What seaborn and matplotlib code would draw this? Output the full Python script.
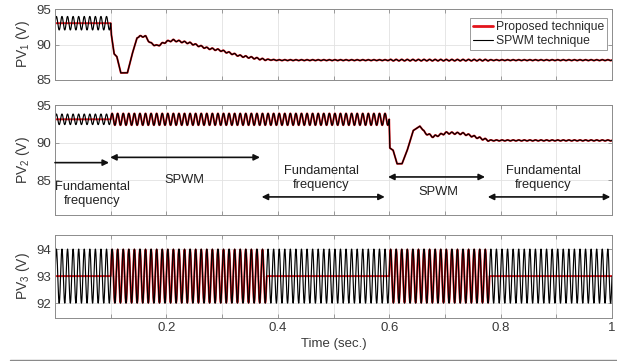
import numpy as np
import pandas as pd
import matplotlib
matplotlib.use("Agg")
import matplotlib.pyplot as plt
from matplotlib.lines import Line2D
import seaborn as sns

# ---------------- data ----------------
ripple_hz = 100.0                      # ripple frequency (about 10 cycles per 0.1 s)

# PV1 mean trajectory (knots) and ripple amplitude per segment
pv1_t = [0.0, 0.1, 0.101, 0.106, 0.111, 0.118, 0.13, 0.138, 0.147, 0.155, 0.163,
         0.171, 0.183, 0.2, 0.212, 0.242, 0.272, 0.296, 0.332, 0.374, 0.4, 1.0]
pv1_v = [93.0, 93.0, 91.5, 88.7, 88.3, 86.0, 86.0, 88.5, 90.9, 91.2, 91.1,
         90.2, 89.8, 90.4, 90.6, 90.2, 89.5, 89.2, 88.4, 87.9, 87.8, 87.8]
pv1_seg = [0.0, 0.1, 0.15, 0.38, 0.6, 0.78, 1.0]
pv1_amp_spwm = [0.95, 0.0, 0.12, 0.06, 0.1, 0.06]
pv1_amp_prop = [0.0, 0.0, 0.12, 0.06, 0.1, 0.06]

# PV2
pv2_t = [0.0, 0.6, 0.601, 0.607, 0.614, 0.623, 0.632, 0.643, 0.655, 0.664,
         0.679, 0.703, 0.733, 0.768, 0.78, 1.0]
pv2_v = [93.1, 93.1, 89.3, 89.0, 87.2, 87.2, 88.9, 91.6, 92.2, 91.3,
         90.8, 91.3, 91.2, 90.5, 90.3, 90.3]
pv2_seg = [0.0, 0.1, 0.6, 0.66, 0.78, 1.0]
pv2_amp_spwm = [0.7, 0.78, 0.0, 0.13, 0.06]
pv2_amp_prop = [0.0, 0.78, 0.0, 0.13, 0.06]

# PV3
pv3_t = [0.0, 1.0]
pv3_v = [93.0, 93.0]
pv3_seg = [0.0, 0.1, 0.38, 0.6, 0.78, 1.0]
pv3_amp_spwm = [1.0, 1.0, 1.0, 1.0, 1.0]
pv3_amp_prop = [0.0, 0.98, 0.0, 0.98, 0.0]

series_labels = ["Proposed technique", "SPWM technique"]
ylabels = ["PV$_1$ (V)", "PV$_2$ (V)", "PV$_3$ (V)"]
xtick_vals = [0.0, 0.1, 0.2, 0.3, 0.4, 0.5, 0.6, 0.7, 0.8, 0.9, 1.0]
xtick_labels = ["", "", "0.2", "", "0.4", "", "0.6", "", "0.8", "", "1"]

# annotations on PV2 panel: (text, x, y)
ann_texts = [("Fundamental\nfrequency", 0.067, 83.2),
             ("SPWM", 0.233, 85.0),
             ("Fundamental\nfrequency", 0.478, 85.3),
             ("SPWM", 0.688, 83.4),
             ("Fundamental\nfrequency", 0.877, 85.3)]
# arrows: (x_start, x_end, y, double-headed?)
ann_arrows = [(0.0, 0.097, 87.35, False),
              (0.099, 0.368, 88.05, True),
              (0.371, 0.592, 82.8, True),
              (0.598, 0.772, 85.45, True),
              (0.777, 0.997, 82.8, True)]

# ---------------- build waveforms ----------------
t = np.linspace(0.0, 1.0, 20001)


def wave(kt, kv, seg, amp):
    base = np.interp(t, kt, kv)
    idx = np.clip(np.searchsorted(seg, t, side="right") - 1, 0, len(amp) - 1)
    return base + np.asarray(amp)[idx] * np.sin(2 * np.pi * ripple_hz * t)


panels = [
    (wave(pv1_t, pv1_v, pv1_seg, pv1_amp_prop), wave(pv1_t, pv1_v, pv1_seg, pv1_amp_spwm)),
    (wave(pv2_t, pv2_v, pv2_seg, pv2_amp_prop), wave(pv2_t, pv2_v, pv2_seg, pv2_amp_spwm)),
    (wave(pv3_t, pv3_v, pv3_seg, pv3_amp_prop), wave(pv3_t, pv3_v, pv3_seg, pv3_amp_spwm)),
]

# ---------------- plot ----------------
sns.set_theme(style="white")
plt.rcParams["font.family"] = ["Liberation Sans", "DejaVu Sans"]
plt.rcParams["mathtext.fontset"] = "custom"
plt.rcParams["mathtext.rm"] = "Liberation Sans"
plt.rcParams["mathtext.it"] = "Liberation Sans"

fig = plt.figure(figsize=(6.17, 3.61), dpi=100)
W, H = 617.0, 361.0
boxes = [(9, 80), (105, 215), (235, 318)]
ylims = [(85, 95), (80.4, 95), (91.45, 94.52)]
yticks = [[85, 90, 95], [85, 90, 95], [92, 93, 94]]
red = "#e3141b"
spine_c = "#8c8c8c"
txt_c = "#3a3a3a"

axes = []
for i, (top, bot) in enumerate(boxes):
    ax = fig.add_axes([55 / W, 1 - bot / H, 557 / W, (bot - top) / H])
    prop, spwm = panels[i]
    df = pd.DataFrame({"t": t, "prop": prop, "spwm": spwm})
    sns.lineplot(data=df, x="t", y="prop", ax=ax, color=red, lw=1.4,
                 estimator=None, legend=False)
    sns.lineplot(data=df, x="t", y="spwm", ax=ax, color="black", lw=0.85,
                 estimator=None, legend=False)
    ax.set_xlim(0, 1)
    ax.set_ylim(*ylims[i])
    ax.set_yticks(yticks[i])
    ax.set_xticks(xtick_vals)
    if i == 2:
        ax.set_xticklabels(xtick_labels)
        ax.set_xlabel("Time (sec.)", fontsize=9.5, color=txt_c, labelpad=3)
    else:
        ax.set_xticklabels([])
        ax.set_xlabel("")
    ax.set_ylabel(ylabels[i], fontsize=10, color=txt_c, labelpad=3)
    ax.grid(True, color="#e2e2e2", lw=0.6)
    ax.tick_params(direction="in", length=3, width=0.6, color=spine_c,
                   labelsize=9.5, labelcolor=txt_c, top=True, right=True,
                   left=True, bottom=True, pad=3)
    for s in ax.spines.values():
        s.set_visible(True)
        s.set_color(spine_c)
        s.set_linewidth(0.7)
    axes.append(ax)

# legend
h = [Line2D([], [], color=red, lw=2.0), Line2D([], [], color="black", lw=0.8)]
leg = axes[0].legend(h, series_labels, loc="upper right",
                     bbox_to_anchor=(0.991, 0.873), borderaxespad=0,
                     fontsize=8.7, handlelength=1.7, handletextpad=0.2,
                     borderpad=0.25, labelspacing=0.15, fancybox=False,
                     framealpha=1)
leg.get_frame().set_edgecolor("#9a9a9a")
leg.get_frame().set_linewidth(0.7)
for tx in leg.get_texts():
    tx.set_color("#2a2a2a")

# annotations on PV2
ax2 = axes[1]
for text, x, y in ann_texts:
    ax2.text(x, y, text, ha="center", va="center", fontsize=9.3,
             color="#222222", linespacing=1.25)
for x0, x1, y, dbl in ann_arrows:
    style = "<|-|>" if dbl else "-|>"
    ax2.annotate("", xy=(x1, y), xytext=(x0, y),
                 arrowprops=dict(arrowstyle=style, color="#111111", lw=1.2,
                                 mutation_scale=9, shrinkA=0, shrinkB=0))

# thin line at the bottom of the image
fig.add_artist(Line2D([10 / W, 1.0], [1 - 359.5 / H] * 2, color="#8a8a8a",
                      lw=1.0, transform=fig.transFigure))

fig.savefig("out.png", dpi=100)
